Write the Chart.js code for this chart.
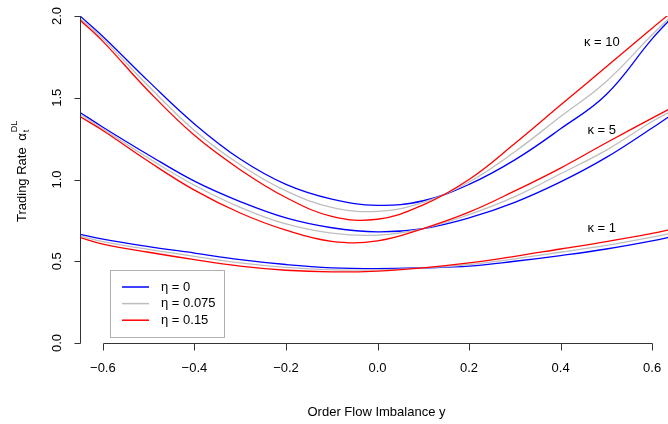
<!DOCTYPE html>
<html>
<head>
<meta charset="utf-8">
<script src="https://cdn.jsdelivr.net/npm/chart.js@4/dist/chart.umd.min.js"></script>
<style>
html, body { margin: 0; padding: 0; background: #fff; overflow: hidden; }
#wrap { width: 700px; height: 424px; }
</style>
</head>
<body>
<div id="wrap"><canvas id="chartJS" width="700" height="424"></canvas></div>
<script>
// order flow imbalance y (x axis)
const imbalance = [-0.65, -0.6, -0.5, -0.4, -0.3, -0.2, -0.1, 0, 0.1, 0.2, 0.3, 0.4, 0.5, 0.6, 0.65];

// trading rate, kappa = 10
const k10Eta0    = [2.00, 1.875, 1.60, 1.34, 1.125, 0.97, 0.88, 0.842, 0.87, 0.97, 1.12, 1.31, 1.52, 1.86, 2.01];
const k10Eta075  = [1.985, 1.86, 1.57, 1.30, 1.09, 0.93, 0.83, 0.805, 0.86, 0.985, 1.17, 1.385, 1.60, 1.885, 2.02];
const k10Eta15   = [1.975, 1.845, 1.54, 1.27, 1.06, 0.89, 0.775, 0.757, 0.845, 1.00, 1.22, 1.455, 1.69, 1.925, 2.04];
// kappa = 5
const k5Eta0     = [1.41, 1.32, 1.15, 0.99, 0.865, 0.765, 0.705, 0.68, 0.70, 0.765, 0.86, 0.985, 1.135, 1.315, 1.41];
const k5Eta075   = [1.40, 1.31, 1.13, 0.965, 0.83, 0.728, 0.672, 0.66, 0.70, 0.785, 0.895, 1.035, 1.18, 1.355, 1.43];
const k5Eta15    = [1.385, 1.30, 1.11, 0.935, 0.795, 0.69, 0.622, 0.625, 0.70, 0.80, 0.93, 1.07, 1.225, 1.375, 1.45];
// kappa = 1
const k1Eta0     = [0.665, 0.635, 0.59, 0.55, 0.51, 0.48, 0.46, 0.455, 0.46, 0.47, 0.50, 0.535, 0.575, 0.625, 0.655];
const k1Eta075   = [0.655, 0.62, 0.572, 0.53, 0.49, 0.462, 0.447, 0.447, 0.46, 0.48, 0.515, 0.555, 0.597, 0.647, 0.677];
const k1Eta15    = [0.645, 0.605, 0.555, 0.51, 0.47, 0.445, 0.435, 0.44, 0.46, 0.49, 0.53, 0.575, 0.62, 0.67, 0.70];

const etaLabels = ['\u03b7 = 0', '\u03b7 = 0.075', '\u03b7 = 0.15'];
const etaColors = ['#0000ff', '#bebebe', '#ff0000'];
const kappaLabels = ['\u03ba = 10', '\u03ba = 5', '\u03ba = 1'];
const kappaLabelAt = [[0.49, 1.837], [0.49, 1.30], [0.49, 0.70]];

const xTicks = [-0.6, -0.4, -0.2, 0, 0.2, 0.4, 0.6];
const xTickLabels = ['\u22120.6', '\u22120.4', '\u22120.2', '0.0', '0.2', '0.4', '0.6'];
const yTicks = [0, 0.5, 1, 1.5, 2];
const yTickLabels = ['0.0', '0.5', '1.0', '1.5', '2.0'];

const FONT = '"Liberation Sans", Arial, sans-serif';

const curves = [
  [k10Eta0, 0], [k10Eta075, 1], [k10Eta15, 2],
  [k5Eta0, 0], [k5Eta075, 1], [k5Eta15, 2],
  [k1Eta0, 0], [k1Eta075, 1], [k1Eta15, 2]
];

const datasets = curves.map(([vals, e]) => ({
  label: etaLabels[e],
  data: vals.map((v, i) => ({ x: imbalance[i], y: v })),
  borderColor: etaColors[e],
  borderWidth: 1.3,
  pointRadius: 0,
  fill: false,
  tension: 0.4,
  order: 2 - e
}));

const rPlot = {
  id: 'rPlot',
  afterDraw(chart) {
    const ctx = chart.ctx;
    const xs = chart.scales.x, ys = chart.scales.y;
    const area = chart.chartArea;
    ctx.save();
    ctx.strokeStyle = '#333';
    ctx.lineWidth = 1;
    ctx.fillStyle = '#000';
    ctx.font = '13px ' + FONT;

    // x axis
    const yb = Math.round(area.bottom) + 0.5;
    ctx.beginPath();
    ctx.moveTo(Math.round(xs.getPixelForValue(xTicks[0])) + 0.5, yb);
    ctx.lineTo(Math.round(xs.getPixelForValue(xTicks[xTicks.length - 1])) + 0.5, yb);
    xTicks.forEach(v => {
      const p = Math.round(xs.getPixelForValue(v)) + 0.5;
      ctx.moveTo(p, yb);
      ctx.lineTo(p, yb + 7);
    });
    ctx.stroke();
    ctx.textAlign = 'center';
    ctx.textBaseline = 'middle';
    xTicks.forEach((v, i) => ctx.fillText(xTickLabels[i], xs.getPixelForValue(v), 368));

    // y axis
    const xl = Math.round(area.left) + 0.5;
    ctx.beginPath();
    ctx.moveTo(xl, Math.round(ys.getPixelForValue(yTicks[0])) + 0.5);
    ctx.lineTo(xl, Math.round(ys.getPixelForValue(yTicks[yTicks.length - 1])) + 0.5);
    yTicks.forEach(v => {
      const p = Math.round(ys.getPixelForValue(v)) + 0.5;
      ctx.moveTo(xl, p);
      ctx.lineTo(xl - 6, p);
    });
    ctx.stroke();
    yTicks.forEach((v, i) => {
      ctx.save();
      ctx.translate(57, ys.getPixelForValue(v));
      ctx.rotate(-Math.PI / 2);
      ctx.fillText(yTickLabels[i], 0, 0);
      ctx.restore();
    });

    // axis titles
    ctx.fillText('Order Flow Imbalance y', (area.left + area.right) / 2 - 1, 412);
    ctx.save();
    ctx.translate(26, 222);
    ctx.rotate(-Math.PI / 2);
    ctx.textAlign = 'left';
    ctx.textBaseline = 'alphabetic';
    ctx.fillText('Trading Rate', 0, 0);
    let w = ctx.measureText('Trading Rate ').width + 3;
    ctx.fillText('\u03b1', w, 0);
    w += ctx.measureText('\u03b1').width + 1;
    ctx.font = '9px ' + FONT;
    ctx.fillText('t', w, 3);
    ctx.fillText('DL', w, -9);
    ctx.restore();

    // curve family labels
    ctx.font = '13px ' + FONT;
    kappaLabels.forEach((t, i) => {
      ctx.fillText(t, xs.getPixelForValue(kappaLabelAt[i][0]), ys.getPixelForValue(kappaLabelAt[i][1]));
    });

    // legend
    ctx.fillStyle = '#fff';
    ctx.fillRect(111, 270, 114, 67);
    ctx.strokeStyle = '#b0b0b0';
    ctx.strokeRect(110.5, 270.5, 114, 67);
    ctx.textAlign = 'left';
    etaLabels.forEach((t, i) => {
      const yy = 287 + i * 16.6;
      ctx.strokeStyle = etaColors[i];
      ctx.lineWidth = 1.5;
      ctx.beginPath();
      ctx.moveTo(122, yy);
      ctx.lineTo(149, yy);
      ctx.stroke();
      ctx.fillStyle = '#000';
      ctx.fillText(t, 161, yy);
    });
    ctx.restore();
  }
};

new Chart(document.getElementById('chartJS'), {
  type: 'line',
  data: { datasets: datasets },
  options: {
    responsive: false,
    animation: false,
    layout: { padding: { top: 16, right: 25, left: 0, bottom: 0 } },
    plugins: { legend: { display: false }, tooltip: { enabled: false } },
    scales: {
      x: {
        type: 'linear', min: -0.65, max: 0.65,
        grid: { display: false }, border: { display: false }, ticks: { display: false },
        afterFit: s => { s.height = 81; }
      },
      y: {
        min: 0, max: 2,
        grid: { display: false }, border: { display: false }, ticks: { display: false },
        afterFit: s => { s.width = 80; }
      }
    }
  },
  plugins: [rPlot]
});
</script>
</body>
</html>
